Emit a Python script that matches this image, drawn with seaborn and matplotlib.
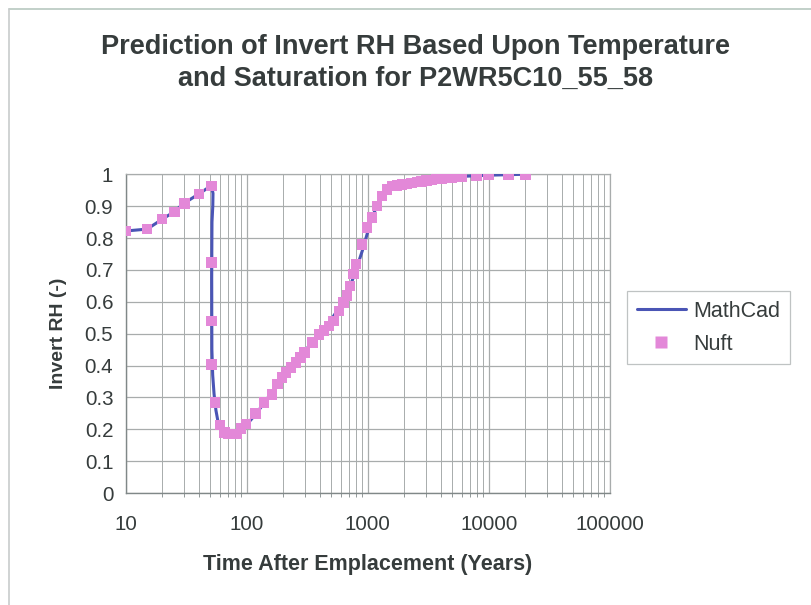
import numpy as np
import pandas as pd
import seaborn as sns
import matplotlib
matplotlib.use("Agg")
import matplotlib.pyplot as plt
from matplotlib.lines import Line2D
from matplotlib.ticker import LogLocator, FixedLocator, NullFormatter, FuncFormatter

# MathCad model curve (time in years, invert RH)
mathcad_time = [10, 15, 20, 25, 30, 40, 48, 51, 52.5, 52.3, 51.5, 51.2, 51.2, 51.4,
                52.2, 53.6, 55.5, 58, 62, 67, 73, 80, 90, 100, 120, 150, 200, 300,
                400, 500, 600, 700, 800, 900, 1000, 1100, 1200, 1400, 1600, 2000,
                3000, 5000, 10000, 20000]
mathcad_rh = [0.822, 0.828, 0.859, 0.882, 0.908, 0.938, 0.958, 0.963, 0.94, 0.90,
              0.85, 0.75, 0.60, 0.45, 0.37, 0.31, 0.26, 0.22, 0.195, 0.186, 0.184,
              0.186, 0.200, 0.215, 0.250, 0.300, 0.370, 0.445, 0.500, 0.545, 0.590,
              0.640, 0.700, 0.760, 0.820, 0.870, 0.905, 0.945, 0.962, 0.972, 0.982,
              0.992, 0.997, 1.000]

# Nuft simulation results
nuft_time = [10, 15, 19.9, 25.2, 30.6, 40.1, 51, 51, 51, 51.2, 54.7, 60.1, 65.3,
             70.7, 76.3, 82.6, 89.5, 98.5, 117.5, 139, 161, 179, 195, 210, 231,
             254, 279, 301, 348, 395, 434, 477, 523, 577, 632, 672, 715, 760, 800,
             898, 987, 1085, 1195, 1313, 1445, 1580, 1740, 1910, 2100, 2300, 2540,
             2790, 3070, 3370, 3710, 4080, 4490, 4930, 5420, 5960, 7940, 9910,
             14500, 20100]
nuft_rh = [0.822, 0.828, 0.859, 0.882, 0.908, 0.938, 0.963, 0.723, 0.540, 0.404,
           0.284, 0.213, 0.190, 0.185, 0.185, 0.185, 0.203, 0.216, 0.250, 0.284,
           0.310, 0.342, 0.363, 0.378, 0.394, 0.410, 0.425, 0.441, 0.472, 0.498,
           0.509, 0.524, 0.540, 0.571, 0.598, 0.620, 0.650, 0.687, 0.718, 0.780,
           0.833, 0.864, 0.900, 0.932, 0.953, 0.963, 0.965, 0.968, 0.970, 0.973,
           0.976, 0.978, 0.980, 0.982, 0.985, 0.987, 0.989, 0.990, 0.992, 0.993,
           0.996, 0.997, 0.998, 1.000]

x_ticks = [10, 100, 1000, 10000, 100000]
y_ticks = [0, 0.1, 0.2, 0.3, 0.4, 0.5, 0.6, 0.7, 0.8, 0.9, 1.0]

sns.set_theme(style="white")
plt.rcParams["font.family"] = ["Liberation Sans", "DejaVu Sans"]

text_color = "#363c3c"
line_color = "#4a55b5"
marker_color = "#e388d8"
grid_color = "#a8acac"

fig = plt.figure(figsize=(8.12, 6.05), dpi=100)
ax = fig.add_axes([0.155, 0.185, 0.596, 0.527])

mc = pd.DataFrame({"time": mathcad_time, "rh": mathcad_rh})
nf = pd.DataFrame({"time": nuft_time, "rh": nuft_rh})

sns.lineplot(data=mc, x="time", y="rh", sort=False, color=line_color,
             linewidth=2.2, ax=ax, zorder=3)
sns.scatterplot(data=nf, x="time", y="rh", marker="s", s=58, color=marker_color,
                edgecolor="none", ax=ax, zorder=4)

ax.set_xscale("log")
ax.set_xlim(10, 100000)
ax.set_ylim(0, 1)
ax.xaxis.set_major_locator(FixedLocator(x_ticks))
ax.xaxis.set_minor_locator(LogLocator(base=10, subs=np.arange(2, 10)))
ax.xaxis.set_minor_formatter(NullFormatter())
ax.xaxis.set_major_formatter(FuncFormatter(lambda v, p: f"{int(round(v))}"))
ax.yaxis.set_major_locator(FixedLocator(y_ticks))
ax.yaxis.set_major_formatter(FuncFormatter(lambda v, p: "0" if v == 0 else ("1" if v == 1 else f"{v:.1f}")))

ax.grid(True, which="major", axis="both", color=grid_color, linewidth=0.9)
ax.grid(True, which="minor", axis="x", color=grid_color, linewidth=0.7)
ax.set_axisbelow(True)

for side in ["top", "right"]:
    ax.spines[side].set_color(grid_color)
    ax.spines[side].set_linewidth(0.9)
for side in ["left", "bottom"]:
    ax.spines[side].set_color("#808888")
    ax.spines[side].set_linewidth(1.0)

ax.tick_params(axis="both", which="major", direction="out", length=4, width=0.8,
               color="#808888", labelsize=14.8, labelcolor=text_color)
ax.tick_params(axis="y", which="major", pad=5)
ax.tick_params(axis="x", which="minor", direction="out", length=3, width=0.6,
               color="#808888", bottom=True)
ax.tick_params(axis="x", which="major", pad=12)

ax.set_xlabel("Time After Emplacement (Years)", fontsize=15.5, fontweight="bold",
              color=text_color, labelpad=14)
ax.set_ylabel("Invert RH (-)", fontsize=14, fontweight="bold", color=text_color,
              labelpad=13)

fig.text(0.512, 0.896, "Prediction of Invert RH Based Upon Temperature\nand Saturation for P2WR5C10_55_58",
         ha="center", va="center", fontsize=19.5, fontweight="bold",
         color=text_color, linespacing=1.25)

handles = [Line2D([0], [0], color=line_color, linewidth=2.2),
           Line2D([0], [0], marker="s", linestyle="none", markersize=8,
                  markerfacecolor=marker_color, markeredgecolor="none")]
leg = fig.legend(handles, ["MathCad", "Nuft"], loc="upper left",
                 bbox_to_anchor=(627 / 812, 1 - 291 / 605), fontsize=15.5,
                 frameon=True, fancybox=False, edgecolor="#b0b4b4",
                 handlelength=2.3, handletextpad=0.35, borderpad=0.45,
                 labelspacing=0.55, borderaxespad=0.0)
leg.get_frame().set_linewidth(0.9)
for t in leg.get_texts():
    t.set_color(text_color)

# outer chart frame (top and left edges)
fig.add_artist(Line2D([9 / 812, 1.0], [1 - 9 / 605, 1 - 9 / 605],
                      transform=fig.transFigure, color="#b8c8c0", linewidth=1.2))
fig.add_artist(Line2D([9 / 812, 9 / 812], [0.0, 1 - 9 / 605],
                      transform=fig.transFigure, color="#c8cccc", linewidth=1.2))

fig.savefig("out.png", dpi=100)
